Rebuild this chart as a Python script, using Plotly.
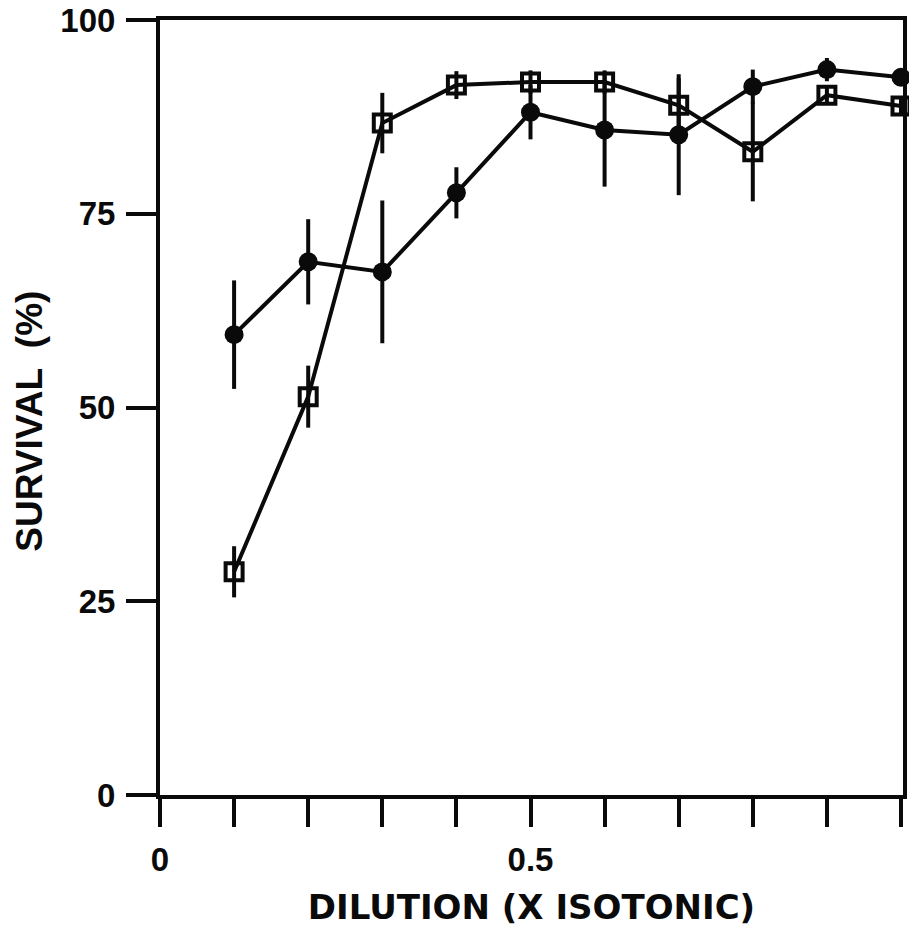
import plotly.graph_objects as go

# Data
dilution = [0.1, 0.2, 0.3, 0.4, 0.5, 0.6, 0.7, 0.8, 0.9, 1.0]

circle_survival = [59.4, 68.8, 67.5, 77.7, 88.1, 85.8, 85.2, 91.4, 93.6, 92.6]
circle_err = [7.0, 5.5, 9.2, 3.3, 3.5, 7.3, 7.8, 2.2, 1.5, 1.0]

square_survival = [28.8, 51.4, 86.7, 91.6, 92.0, 92.0, 89.0, 83.0, 90.3, 88.9]
square_err = [3.3, 4.0, 3.9, 1.8, 1.5, 1.5, 3.5, 6.4, 1.0, 1.0]

x_tickvals = [0, 0.1, 0.2, 0.3, 0.4, 0.5, 0.6, 0.7, 0.8, 0.9, 1.0]
x_ticktext = ["0", "", "", "", "", "0.5", "", "", "", "", "1"]
y_tickvals = [0, 25, 50, 75, 100]
y_ticktext = ["0", "25", "50", "75", "100"]

x_title = "DILUTION (X ISOTONIC)"
y_title = "SURVIVAL  (%)"

FONT = "Liberation Sans"
TITLE_FONT = "DejaVu Sans"
BLACK = "#0a0a0a"

fig = go.Figure()

fig.add_trace(go.Scatter(
    x=dilution, y=circle_survival, mode="lines+markers",
    line=dict(color=BLACK, width=4),
    marker=dict(symbol="circle", size=19, color=BLACK),
    error_y=dict(type="data", array=circle_err, visible=True,
                 color=BLACK, thickness=4, width=0),
    showlegend=False, cliponaxis=False,
))

fig.add_trace(go.Scatter(
    x=dilution, y=square_survival, mode="lines+markers",
    line=dict(color=BLACK, width=4),
    marker=dict(symbol="square-open", size=17, color=BLACK,
                line=dict(width=4, color=BLACK)),
    error_y=dict(type="data", array=square_err, visible=True,
                 color=BLACK, thickness=4, width=0),
    showlegend=False, cliponaxis=False,
))

fig.update_layout(
    width=909, height=952,
    margin=dict(l=160, r=2, t=20, b=157),
    paper_bgcolor="white", plot_bgcolor="white",
    font=dict(family=FONT, color=BLACK, weight="bold"),
    xaxis=dict(
        range=[0, 1.0027],
        tickmode="array", tickvals=x_tickvals, ticktext=x_ticktext,
        ticks="outside", ticklen=28, tickwidth=4, tickcolor=BLACK,
        tickfont=dict(size=33, family=FONT, weight="bold"),
        ticklabelstandoff=4,
        showline=True, linewidth=4, linecolor=BLACK, mirror=True,
        showgrid=False, zeroline=False,
        title=dict(text=x_title,
                   font=dict(size=34, family=TITLE_FONT, weight="bold"),
                   standoff=20),
    ),
    yaxis=dict(
        range=[0, 100],
        tickmode="array", tickvals=y_tickvals, ticktext=y_ticktext,
        ticks="outside", ticklen=30, tickwidth=4, tickcolor=BLACK,
        tickfont=dict(size=33, family=FONT, weight="bold"),
        ticklabelstandoff=4,
        showline=True, linewidth=4, linecolor=BLACK, mirror=True,
        showgrid=False, zeroline=False,
    ),
    annotations=[dict(
        text=y_title, textangle=-90,
        xref="paper", yref="paper", x=-0.176, y=0.482,
        xanchor="center", yanchor="middle", showarrow=False,
        font=dict(size=37, family=FONT, weight="bold", color=BLACK),
    )],
)

fig.write_html("out.html")
